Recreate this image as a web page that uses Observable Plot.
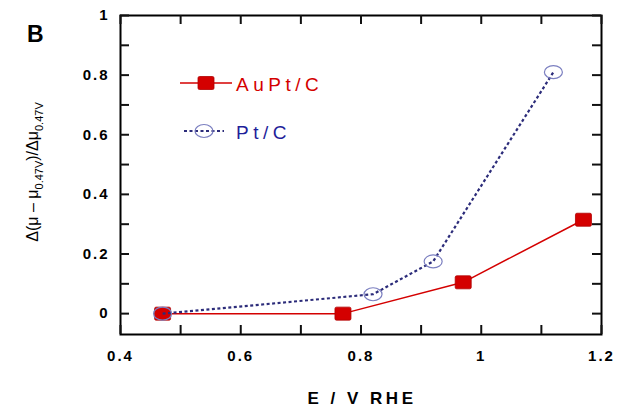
<!DOCTYPE html>
<html><head><meta charset="utf-8">
<script src="https://cdn.jsdelivr.net/npm/d3@7"></script>
<script src="https://cdn.jsdelivr.net/npm/@observablehq/plot@0.6"></script>
<style>
body{margin:0;background:#fff;}
#chart{position:relative;width:626px;height:407px;}
svg{font-family:"Liberation Sans",Arial,sans-serif;}
.ticklbl text{letter-spacing:2px;}
</style></head>
<body><div id="chart"></div>
<script>
const auptE = [0.47, 0.77, 0.97, 1.17];
const auptV = [0, 0, 0.105, 0.315];
const ptE = [0.47, 0.82, 0.92, 1.12];
const ptV = [0, 0.065, 0.175, 0.81];
const xMinor = [0.4,0.5,0.6,0.7,0.8,0.9,1.0,1.1,1.2];
const xLabels = [0.4,0.6,0.8,1.0,1.2];
const yMinor = [0,0.1,0.2,0.3,0.4,0.5,0.6,0.7,0.8,0.9,1.0];
const yLabels = [0,0.2,0.4,0.6,0.8,1.0];

const aupt = auptE.map((e,i)=>({e, v:auptV[i]}));
const pt = ptE.map((e,i)=>({e, v:ptV[i]}));

const red = "#d40000", navy = "#2c2c7a", circ = "#7b7fc0";

const ellipse = {draw(ctx, size){
  const rx = 9, ry = 6.5, k = 0.5523;
  ctx.moveTo(rx,0);
  ctx.bezierCurveTo(rx, ry*k, rx*k, ry, 0, ry);
  ctx.bezierCurveTo(-rx*k, ry, -rx, ry*k, -rx, 0);
  ctx.bezierCurveTo(-rx, -ry*k, -rx*k, -ry, 0, -ry);
  ctx.bezierCurveTo(rx*k, -ry, rx, -ry*k, rx, 0);
  ctx.closePath();
}};
const rsq = {draw(ctx, size){
  const w=8, h=6.5, r=1.5;
  ctx.moveTo(-w+r,-h); ctx.lineTo(w-r,-h); ctx.quadraticCurveTo(w,-h,w,-h+r);
  ctx.lineTo(w,h-r); ctx.quadraticCurveTo(w,h,w-r,h);
  ctx.lineTo(-w+r,h); ctx.quadraticCurveTo(-w,h,-w,h-r);
  ctx.lineTo(-w,-h+r); ctx.quadraticCurveTo(-w,-h,-w+r,-h); ctx.closePath();
}};

const fmt = d3.format("~g");
const T = 9;
const W = 626, H = 407, ML = 120, MR = 25, MT = 15, MB = 73;
const PW = W - ML - MR, PH = H - MT - MB;
const plot = Plot.plot({
  width: W, height: H,
  marginLeft: ML, marginRight: MR, marginTop: MT, marginBottom: MB,
  x: {domain: [0.4, 1.2]},
  y: {domain: [-0.07, 1]},
  style: {fontFamily: '"Liberation Sans",Arial,sans-serif', color: "#000", background: "#fff"},
  marks: [
    Plot.axisX(xLabels, {anchor: "bottom", tickSize: 0, tickPadding: 16, tickFormat: fmt, label: null, fontSize: 15, fontWeight: "bold", className: "ticklbl"}),
    Plot.axisY(yLabels, {anchor: "left", tickSize: 0, tickPadding: 11, tickFormat: fmt, label: null, fontSize: 15, fontWeight: "bold", className: "ticklbl"}),
    Plot.frame({stroke: "#000", strokeWidth: 2, fill: "none"}),
    Plot.ruleX(xMinor, {x: d => d, insetTop: PH - T, stroke: "#111", strokeWidth: 2}),
    Plot.ruleX(xMinor, {x: d => d, insetBottom: PH - T, stroke: "#111", strokeWidth: 2}),
    Plot.ruleY(yMinor, {y: d => d, insetRight: PW - T, stroke: "#111", strokeWidth: 2}),
    Plot.ruleY(yMinor, {y: d => d, insetLeft: PW - T, stroke: "#111", strokeWidth: 2}),
    Plot.line(aupt, {x: "e", y: "v", stroke: red, strokeWidth: 1.5}),
    Plot.dot(aupt, {x: "e", y: "v", symbol: rsq, fill: red, stroke: "#b00000", strokeWidth: 0.8, r: 8}),
    Plot.line(pt, {x: "e", y: "v", stroke: navy, strokeWidth: 2.2, strokeDasharray: "3,2.5", strokeLinecap: "butt"}),
    Plot.dot(pt, {x: "e", y: "v", symbol: ellipse, stroke: circ, strokeWidth: 1.2, fill: "none", r: 8})
  ]
});
document.getElementById("chart").appendChild(plot);

const svg = d3.select(plot);
svg.append("text").attr("x", 27).attr("y", 42).attr("text-anchor", "start").attr("font-size", 23).attr("font-weight", "bold").text("B");
// x label
svg.append("text").attr("x", 362).attr("y", 404).attr("text-anchor", "middle").attr("font-weight", "bold")
  .attr("font-size", 17).attr("letter-spacing", "3.5px").text("E / V RHE");
// y label
const yl = svg.append("text").attr("transform", "translate(38,172) rotate(-90)")
  .attr("text-anchor", "middle").attr("font-size", 16);
yl.append("tspan").text("Δ(μ – μ");
yl.append("tspan").attr("dy", 5).attr("font-size", 11).text("0.47V");
yl.append("tspan").attr("dy", -5).text(")/Δμ");
yl.append("tspan").attr("dy", 5).attr("font-size", 11).text("0.47V");

// legend
const lg = svg.append("g").attr("text-anchor", "start");
lg.append("line").attr("x1", 180).attr("x2", 232).attr("y1", 83).attr("y2", 83).attr("stroke", red).attr("stroke-width", 1.5);
lg.append("path").attr("transform", "translate(206,83)").attr("d", d3.symbol(rsq)()).attr("fill", red).attr("stroke", "#b00000").attr("stroke-width", 0.8);
lg.append("text").attr("x", 236).attr("y", 91).attr("fill", red).attr("font-size", 19).attr("letter-spacing", "4.5px").text("AuPt/C");
lg.append("line").attr("x1", 184).attr("x2", 224).attr("y1", 131).attr("y2", 131).attr("stroke", navy).attr("stroke-width", 2).attr("stroke-dasharray", "3,2.5");
lg.append("path").attr("transform", "translate(204,131)").attr("d", d3.symbol(ellipse)()).attr("fill", "none").attr("stroke", circ).attr("stroke-width", 1.2);
lg.append("text").attr("x", 236).attr("y", 139).attr("fill", "#1e1e9a").attr("font-size", 19).attr("letter-spacing", "4.5px").text("Pt/C");
</script></body></html>
